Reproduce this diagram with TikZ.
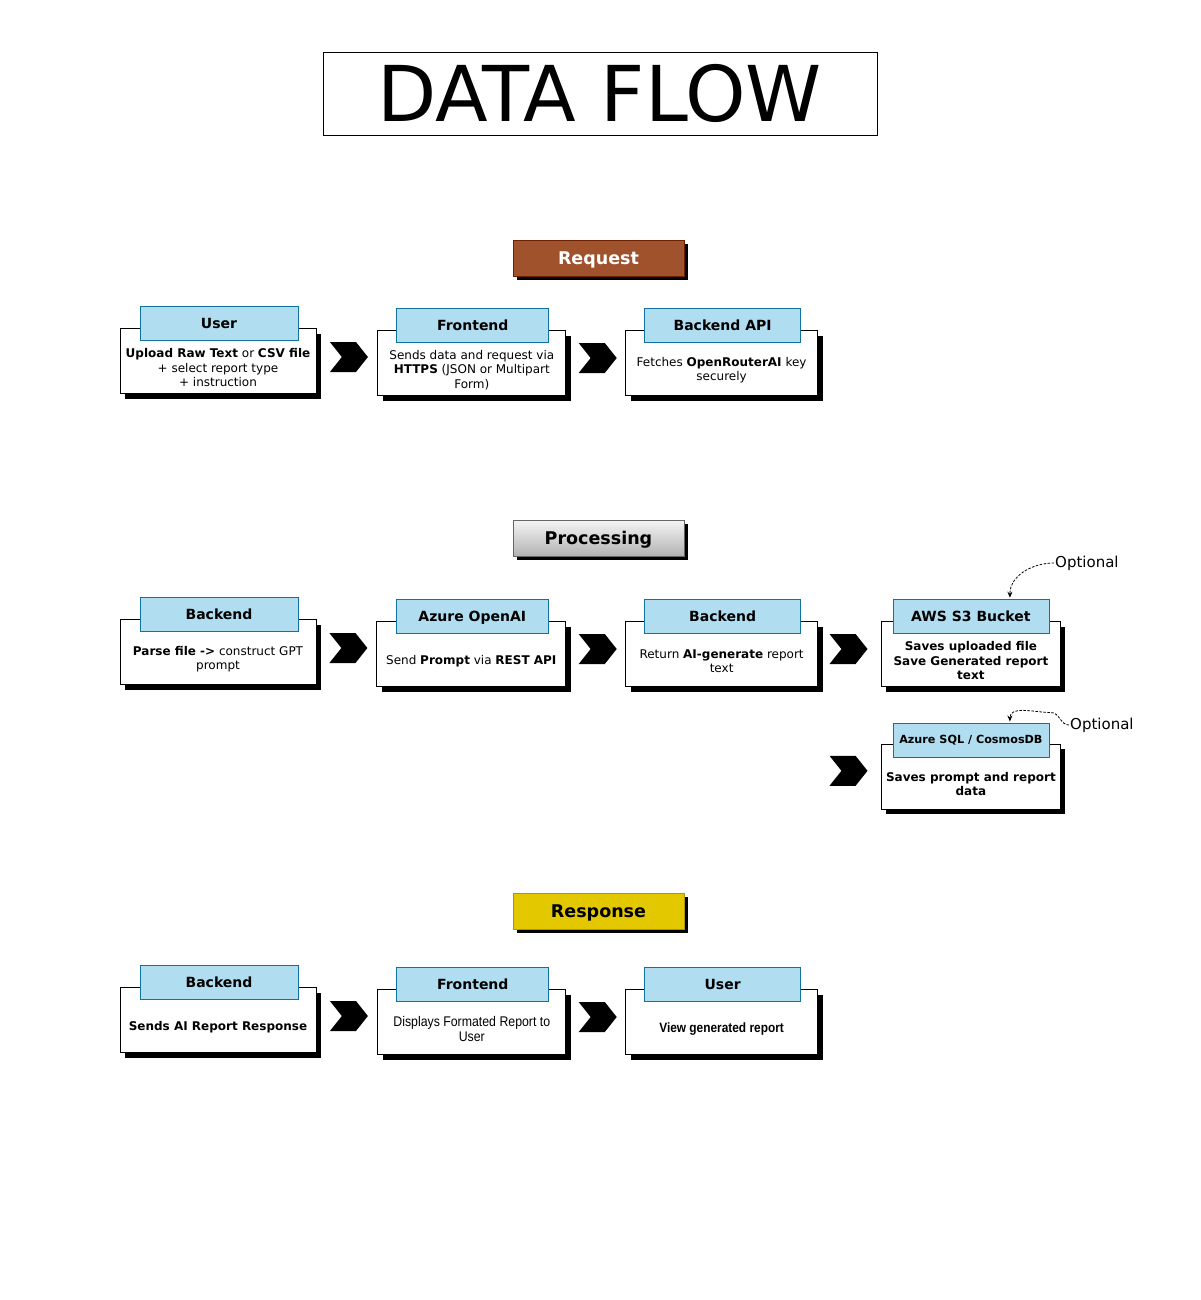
\documentclass[tikz,border=0pt]{standalone}
\usepackage{fontspec}
\setmainfont{DejaVu Sans}
\newfontfamily\narrowfont[FakeStretch=0.88]{Liberation Sans}
\usepackage{tikz}
\usetikzlibrary{positioning}
\usetikzlibrary{calc}
\usetikzlibrary{shapes.symbols}
\usetikzlibrary{shadows}
\usetikzlibrary{arrows.meta}

\definecolor{headblue}{HTML}{B1DDF0}
\definecolor{headline}{HTML}{10739E}
\definecolor{reqfill}{HTML}{A0522D}
\definecolor{reqline}{HTML}{6D1F00}
\definecolor{resfill}{HTML}{E3C800}
\definecolor{resline}{HTML}{B09500}

\tikzset{
  card/.style       = { rectangle, draw=black, fill=white, line width=0.8pt, minimum height=65pt,
                        drop shadow={shadow xshift=5pt, shadow yshift=-5pt, opacity=1, fill=black} },
  cardhead/.style   = { rectangle, draw=headline, fill=headblue, line width=0.8pt,
                        minimum width=156pt, minimum height=34pt, text height=10pt, text depth=0pt,
                        font=\fontsize{14}{16}\selectfont\bfseries },
  cardtext/.style   = { align=center, inner sep=0pt, font=\fontsize{12}{14.5}\selectfont },
}
\tikzset{
  chevron/.style    = { signal, signal from=west, signal to=east, signal pointer angle=103,
                        fill=black, inner sep=0pt, minimum width=38pt, minimum height=30pt },
  phase/.style      = { rectangle, line width=0.8pt, minimum width=171pt, minimum height=36pt,
                        text height=12.5pt, text depth=0pt, font=\fontsize{17.5}{20}\selectfont\bfseries,
                        drop shadow={shadow xshift=4pt, shadow yshift=-4pt, opacity=1, fill=black} },
  optnote/.style    = { font=\fontsize{15}{17}\selectfont, inner sep=1pt, anchor=west },
  optline/.style    = { dashed, dash pattern=on 2.5pt off 1.5pt, line width=0.8pt,
                        -{Stealth[length=6pt, width=5pt]} }
}

\begin{document}
\begin{tikzpicture}[x=1pt, y=1pt]
  \useasboundingbox (0,0) rectangle (1200,-1300);

  \node (title) [draw, line width=0.8pt, minimum width=554pt, minimum height=83pt,
                 text height=56pt, text depth=0pt, font=\fontsize{77}{80}\selectfont] at (600,-93.5) {DATA FLOW};

  \node (request)    [phase, draw=reqline, fill=reqfill, text=white] at (598.5,-258) {Request};
  \node (processing) [phase, draw=black!60, top color=black!4, bottom color=black!30] at (598.5,-538) {Processing};
  \node (response)   [phase, draw=resline, fill=resfill] at (598.5,-911) {Response};

  % request
  \node (user)    [card, minimum width=196pt] at (218,-361) {};
  \node (front)   [card, minimum width=188pt, right=61pt of user, yshift=-2pt] {};
  \node (api)     [card, minimum width=192pt, right=59pt of front] {};
  \node (userh)   [cardhead, minimum width=158pt] at ($(user.north)+(1,5)$)  {User};
  \node (fronth)  [cardhead, minimum width=152pt] at ($(front.north)+(1,5)$) {Frontend};
  \node (apih)    [cardhead] at ($(api.north)+(1,5)$) {Backend API};
  \node (usert)   [cardtext] at ($(user.center)+(0,-7)$)
    {\textbf{Upload Raw Text} or \textbf{CSV file}\\+ select report type\\+ instruction};
  \node (frontt)  [cardtext] at ($(front.center)+(0,-7)$)
    {Sends data and request via\\\textbf{HTTPS} (JSON or Multipart\\Form)};
  \node (apit)    [cardtext] at ($(api.center)+(0,-7)$)
    {Fetches \textbf{OpenRouterAI} key\\securely};
  \node (req1) [chevron] at ($(user.east)!0.5!(front.west)+(2,5)$) {};
  \node (req2) [chevron] at ($(front.east)!0.5!(api.west)+(2,5)$) {};

  % processing
  \node (parse)   [card, minimum width=196pt] at (218,-652) {};
  \node (openai)  [card, minimum width=189pt, right=60pt of parse, yshift=-2pt] {};
  \node (ret)     [card, minimum width=192pt, right=59pt of openai] {};
  \node (bucket)  [card, minimum width=179pt, right=63pt of ret]    {};
  \node (db)      [card, minimum width=179pt, below=57pt of bucket] {};
  \node (parseh)  [cardhead, minimum width=158pt] at ($(parse.north)+(1,5)$)  {Backend};
  \node (openaih) [cardhead, minimum width=152pt] at ($(openai.north)+(1,5)$) {Azure OpenAI};
  \node (reth)    [cardhead] at ($(ret.north)+(1,5)$) {Backend};
  \node (bucketh) [cardhead] at ($(bucket.north)+(0,5)$) {AWS S3 Bucket};
  \node (dbh)     [cardhead, text height=8pt, font=\fontsize{11.2}{13}\selectfont\bfseries] at ($(db.north)+(0,4)$) {Azure SQL / CosmosDB};
  \node (parset)  [cardtext] at ($(parse.center)+(0,-7)$)
    {\textbf{Parse file ->} construct GPT\\prompt};
  \node (openait) [cardtext] at ($(openai.center)+(0,-7)$)
    {Send \textbf{Prompt} via \textbf{REST API}};
  \node (rett)    [cardtext] at ($(ret.center)+(0,-7)$)
    {Return \textbf{AI-generate} report\\text};
  \node (buckett) [cardtext, font=\fontsize{12}{14.5}\selectfont\bfseries] at ($(bucket.center)+(0,-7)$)
    {Saves uploaded file\\Save Generated report\\text};
  \node (dbt)     [cardtext, font=\fontsize{12}{14.5}\selectfont\bfseries] at ($(db.center)+(0,-7)$)
    {Saves prompt and report\\data};
  \node (proc1) [chevron] at ($(parse.east)!0.5!(openai.west)+(2,5)$) {};
  \node (proc2) [chevron] at ($(openai.east)!0.5!(ret.west)+(2,5)$)  {};
  \node (proc3) [chevron] at ($(ret.east)!0.5!(bucket.west)+(-1,5)$) {};
  \node (proc4) [chevron, yshift=6pt] at (proc3 |- db.center) {};

  \node (opt1) [optnote] at (1054,-563) {Optional};
  \node (opt2) [optnote] at (1069,-725) {Optional};
  \draw [optline] (opt1.west) to[out=180,in=90] ($(bucketh.north)+(39,1)$);
  \draw [optline] (opt2.west) to[out=180,in=0] ($(dbh.north)+(80,10)$)
                              to[out=180,in=90] ($(dbh.north)+(39,1)$);

  % response
  \node (send)    [card, minimum width=196pt] at (218,-1020) {};
  \node (show)    [card, minimum width=188pt, right=61pt of send, yshift=-2pt] {};
  \node (view)    [card, minimum width=192pt, right=59pt of show] {};
  \node (sendh)   [cardhead, minimum width=158pt] at ($(send.north)+(1,5)$) {Backend};
  \node (showh)   [cardhead, minimum width=152pt] at ($(show.north)+(1,5)$) {Frontend};
  \node (viewh)   [cardhead] at ($(view.north)+(1,5)$) {User};
  \node (sendt)   [cardtext, font=\fontsize{12}{14.5}\selectfont\bfseries] at ($(send.center)+(0,-7)$)
    {Sends AI Report Response};
  \node (showt)   [cardtext, font=\narrowfont\fontsize{14}{15.5}\selectfont] at ($(show.center)+(0,-7)$)
    {Displays Formated Report to\\User};
  \node (viewt)   [cardtext, font=\narrowfont\fontsize{13.5}{15.5}\selectfont\bfseries] at ($(view.center)+(0,-7)$)
    {View generated report};
  \node (res1) [chevron] at ($(send.east)!0.5!(show.west)+(2,5)$) {};
  \node (res2) [chevron] at ($(show.east)!0.5!(view.west)+(2,5)$) {};
\end{tikzpicture}
\end{document}
